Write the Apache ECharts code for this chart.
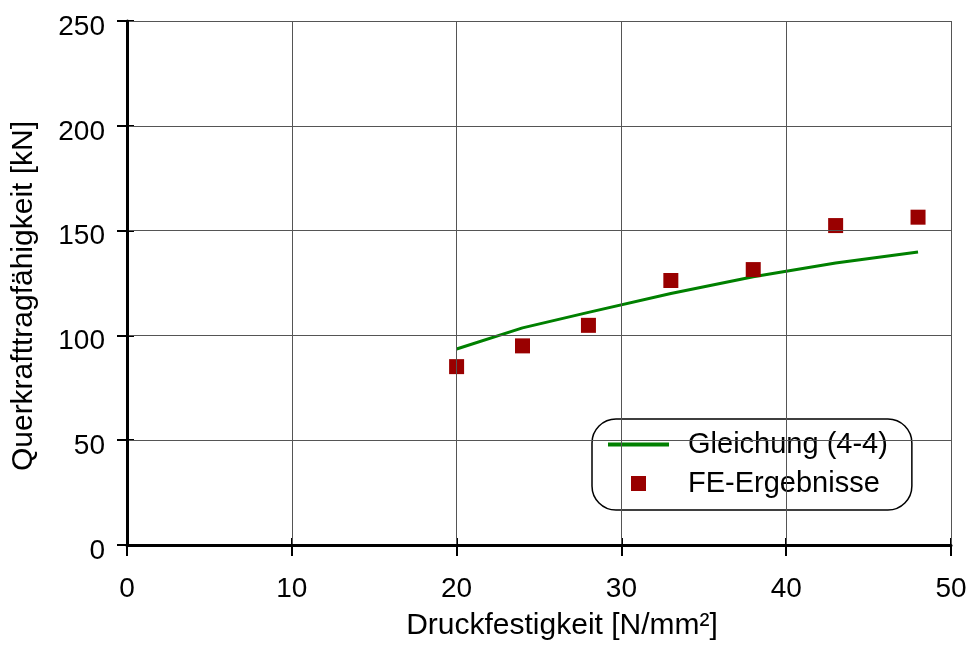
<!DOCTYPE html>
<html>
<head>
<meta charset="utf-8">
<script src="https://cdn.jsdelivr.net/npm/echarts@6/dist/echarts.min.js"></script>
<style>
  html, body { margin: 0; padding: 0; background: #fff; }
  #chart { width: 970px; height: 646px; }
</style>
</head>
<body>
<div id="chart"></div>
<script>
// Concrete compressive strength [N/mm²]
const strengthEq = [20, 24, 28, 33, 38, 43, 48];
// Shear capacity from equation (4-4) [kN]
const capacityEq = [93.5, 103.6, 111, 120, 128, 134.5, 139.8];

// FE results
const strengthFE = [20, 24, 28, 33, 38, 43, 48];
const capacityFE = [85.1, 95.0, 104.8, 126.2, 131.4, 152.4, 156.4];

const xTicks = [0, 10, 20, 30, 40, 50];
const yTicks = [0, 50, 100, 150, 200, 250];

const FONT = '"Liberation Sans", Arial, sans-serif';

const eqPoints = strengthEq.map((x, i) => [x, capacityEq[i]]);
const fePoints = strengthFE.map((x, i) => [x, capacityFE[i]]);

// Legend glyphs: the two zero-length segments pin the bounding box to the
// full 61x15 item box, so the filled shape keeps its real proportions.
const ICON_LINE = 'path://M0,0L0,0M61,15L61,15M0,5.5H61V9.5H0Z';
const ICON_SQUARE = 'path://M0,0L0,0M61,15L61,15M23,0H38V15H23Z';

const chart = echarts.init(document.getElementById('chart'), null, { renderer: 'canvas' });

const baseX = {
  type: 'value',
  min: xTicks[0],
  max: xTicks[xTicks.length - 1],
  interval: xTicks[1] - xTicks[0]
};
const baseY = {
  type: 'value',
  min: yTicks[0],
  max: yTicks[yTicks.length - 1],
  interval: yTicks[1] - yTicks[0]
};

chart.setOption({
  animation: false,
  backgroundColor: '#ffffff',
  grid: { left: 127, right: 19, top: 21, bottom: 98, containLabel: false },
  xAxis: [
    Object.assign({}, baseX, {
      position: 'bottom',
      name: 'Druckfestigkeit [N/mm²]',
      nameLocation: 'middle',
      nameGap: 66,
      nameTextStyle: { fontFamily: FONT, fontSize: 30, color: '#000', padding: [0, 0, 0, 46] },
      axisLine: { show: true, onZero: false, lineStyle: { color: '#000', width: 3 } },
      axisTick: { show: true, inside: false, length: 11, lineStyle: { color: '#000', width: 2 } },
      axisLabel: { fontFamily: FONT, fontSize: 28, color: '#000', margin: 30 },
      splitLine: { show: true, lineStyle: { color: '#555', width: 1 } },
      z: 5
    }),
    Object.assign({}, baseX, {
      position: 'bottom',
      axisLine: { show: false },
      axisTick: { show: true, inside: true, length: 7, lineStyle: { color: '#000', width: 2 } },
      axisLabel: { show: false },
      splitLine: { show: false }
    })
  ],
  yAxis: [
    Object.assign({}, baseY, {
      position: 'left',
      name: 'Querkrafttragfähigkeit [kN]',
      nameLocation: 'middle',
      nameGap: 88,
      nameTextStyle: { fontFamily: FONT, fontSize: 30, color: '#000', padding: [0, 26, 0, 0] },
      axisLine: { show: true, onZero: false, lineStyle: { color: '#000', width: 3 } },
      axisTick: { show: true, inside: false, length: 10, lineStyle: { color: '#000', width: 2 } },
      axisLabel: { fontFamily: FONT, fontSize: 28, color: '#000', margin: 22, verticalAlign: 'top', lineHeight: 12 },
      splitLine: { show: true, lineStyle: { color: '#555', width: 1 } },
      z: 5
    }),
    Object.assign({}, baseY, {
      position: 'left',
      axisLine: { show: false },
      axisTick: { show: true, inside: true, length: 7, lineStyle: { color: '#000', width: 2 } },
      axisLabel: { show: false },
      splitLine: { show: false }
    })
  ],
  legend: {
    orient: 'vertical',
    left: 592,
    top: 419,
    padding: [11, 24, 12, 16],
    itemWidth: 61,
    itemHeight: 15,
    itemGap: 10,
    borderColor: '#000',
    borderWidth: 1.5,
    borderRadius: 24,
    backgroundColor: '#fff',
    textStyle: { fontFamily: FONT, fontSize: 29, color: '#000', lineHeight: 28, padding: [0, 0, 0, 14] },
    data: [
      { name: 'Gleichung (4-4)', icon: ICON_LINE },
      { name: 'FE-Ergebnisse', icon: ICON_SQUARE }
    ]
  },
  series: [
    {
      name: 'Gleichung (4-4)',
      type: 'line',
      data: eqPoints,
      symbol: 'none',
      lineStyle: { color: '#008000', width: 3 },
      itemStyle: { color: '#008000' },
      z: 3
    },
    {
      name: 'FE-Ergebnisse',
      type: 'scatter',
      data: fePoints,
      symbol: 'rect',
      symbolSize: 15,
      itemStyle: { color: '#990000', opacity: 1 },
      z: 4
    }
  ]
});
</script>
</body>
</html>
